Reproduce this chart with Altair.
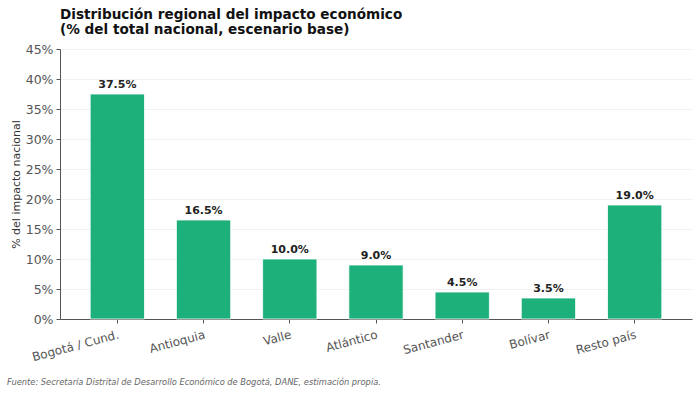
import altair as alt
import pandas as pd

regiones = ["Bogotá / Cund.", "Antioquia", "Valle", "Atlántico", "Santander", "Bolívar", "Resto país"]
participacion = [37.5, 16.5, 10.0, 9.0, 4.5, 3.5, 19.0]
ticks_y = [0, 5, 10, 15, 20, 25, 30, 35, 40, 45]

fuente = "Fuente: Secretaría Distrital de Desarrollo Económico de Bogotá, DANE, estimación propia."

df = pd.DataFrame({"region": regiones, "valor": participacion})
df["etiqueta"] = df["valor"].map(lambda v: f"{v:.1f}%")

FONT = "DejaVu Sans"
VERDE = "#1db07b"

x = alt.X(
    "region:N",
    sort=regiones,
    title=None,
    scale=alt.Scale(paddingInner=0.37, paddingOuter=0.35),
    axis=alt.Axis(
        labelAngle=-15,
        labelAlign="right",
        labelBaseline="top",
        labelFontSize=12,
        labelColor="#555555",
        labelPadding=6,
        labelOverlap=False,
        tickSize=4,
        tickColor="#555555",
        domainColor="#555555",
        labelFont=FONT,
    ),
)

y = alt.Y(
    "valor:Q",
    title="% del impacto nacional",
    scale=alt.Scale(domain=[0, 45], nice=False),
    axis=alt.Axis(
        values=ticks_y,
        labelExpr="datum.value + '%'",
        labelFontSize=12.5,
        labelColor="#555555",
        labelFont=FONT,
        labelOverlap=False,
        labelPadding=3,
        tickSize=4,
        tickColor="#555555",
        domainColor="#555555",
        grid=True,
        gridColor="#eeeeee",
        gridWidth=0.8,
        titleFont=FONT,
        titleFontSize=11,
        titleFontWeight="normal",
        titleColor="#333333",
        titlePadding=4,
    ),
)

barras = alt.Chart(df).mark_bar(color=VERDE, stroke="white", strokeWidth=0.8).encode(x=x, y=y)

etiquetas = alt.Chart(df).mark_text(
    font=FONT, fontSize=11, fontWeight="bold", color="#222222", baseline="bottom", dy=-4
).encode(x=x, y=y, text="etiqueta:N")

nota = alt.Chart(pd.DataFrame({"t": [fuente]})).mark_text(
    font=FONT, fontSize=8.3, fontStyle="italic", color="#666666", align="left", baseline="middle"
).encode(x=alt.value(-53), y=alt.value(334), text="t:N")

chart = (
    alt.layer(barras, etiquetas, nota)
    .properties(
        width=632,
        height=270,
        title=alt.TitleParams(
            text=["Distribución regional del impacto económico", "(% del total nacional, escenario base)"],
            anchor="start",
            frame="group",
            font=FONT,
            fontSize=13.6,
            fontWeight="bold",
            color="#111111",
            lineHeight=15,
            offset=6,
        ),
        autosize=alt.AutoSizeParams(type="none"),
        padding={"left": 60, "top": 49, "right": 8, "bottom": 75},
    )
    .configure_view(stroke=None)
)

chart.save("out.html", embed_options={"renderer": "svg", "actions": False})
